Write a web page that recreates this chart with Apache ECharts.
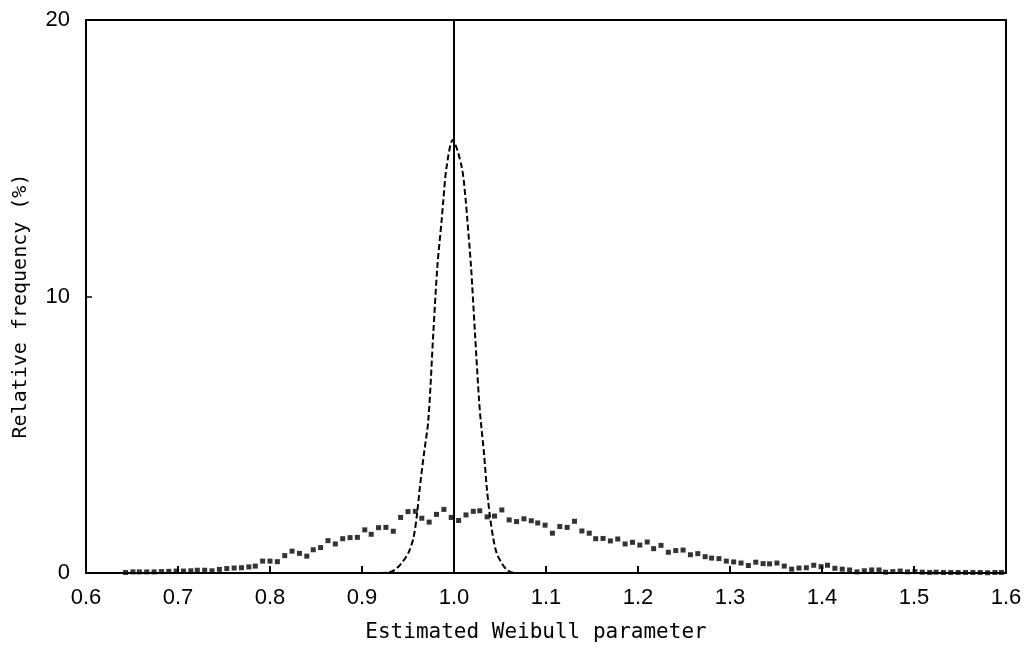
<!DOCTYPE html>
<html>
<head>
<meta charset="utf-8">
<script src="https://cdn.jsdelivr.net/npm/echarts@6/dist/echarts.min.js"></script>
<style>
html,body{margin:0;padding:0;background:#fff;}
#c{width:1029px;height:648px;}
</style>
</head>
<body>
<div id="c"></div>
<script>
// Simulated (dotted) histogram: bin centres and relative frequency (%)
const simX = [0.643,0.651,0.658,0.666,0.674,0.682,0.690,0.698,0.706,0.714,
  0.721,0.729,0.737,0.745,0.753,0.761,0.769,0.777,0.784,0.792,
  0.800,0.808,0.816,0.824,0.832,0.840,0.847,0.855,0.863,0.871,
  0.879,0.887,0.895,0.903,0.910,0.918,0.926,0.934,0.942,0.950,
  0.958,0.965,0.973,0.981,0.989,0.997,1.005,1.013,1.021,1.028,
  1.036,1.044,1.052,1.060,1.068,1.076,1.084,1.091,1.099,1.107,
  1.115,1.123,1.131,1.139,1.147,1.154,1.162,1.170,1.178,1.186,
  1.194,1.202,1.210,1.217,1.225,1.233,1.241,1.249,1.257,1.265,
  1.273,1.280,1.288,1.296,1.304,1.312,1.320,1.328,1.336,1.343,
  1.351,1.359,1.367,1.375,1.383,1.391,1.399,1.406,1.414,1.422,
  1.430,1.438,1.446,1.454,1.462,1.469,1.477,1.485,1.493,1.501,
  1.509,1.517,1.524,1.532,1.540,1.548,1.556,1.564,1.572,1.580,
  1.588,1.595];
const simY = [0.02,0.04,0.04,0.04,0.04,0.05,0.06,0.07,0.07,0.08,
  0.10,0.10,0.08,0.13,0.16,0.18,0.19,0.22,0.25,0.43,
  0.43,0.41,0.63,0.79,0.71,0.61,0.84,0.92,1.17,1.05,
  1.24,1.28,1.29,1.56,1.40,1.64,1.65,1.51,2.01,2.22,
  2.23,1.98,1.84,2.12,2.30,2.01,1.90,2.10,2.23,2.25,
  2.03,2.06,2.28,1.92,1.86,1.96,1.89,1.81,1.73,1.44,
  1.68,1.65,1.87,1.52,1.44,1.24,1.25,1.16,1.23,1.05,
  1.11,1.01,1.12,0.88,1.00,0.75,0.81,0.83,0.66,0.70,
  0.59,0.54,0.52,0.43,0.40,0.36,0.27,0.39,0.34,0.33,
  0.36,0.25,0.14,0.18,0.19,0.28,0.23,0.28,0.17,0.14,
  0.11,0.04,0.08,0.11,0.11,0.03,0.05,0.07,0.04,0.05,
  0.03,0.02,0.03,0.02,0.02,0.02,0.02,0.02,0.02,0.01,
  0.02,0.02];

// Dashed curve
const curveX = [0.920,0.9286,0.9359,0.9431,0.9503,0.9558,0.9595,0.963,0.9674,0.9721,
  0.9775,0.9819,0.9866,0.9884,0.992,0.9986,1.0083,1.0127,1.0145,1.0185,
  1.0228,1.0272,1.029,1.0326,1.0355,1.0391,1.0427,1.0464,1.0518,1.0573,1.0645,1.075];
const curveY = [0,0.01,0.12,0.36,0.72,1.25,2.04,3.13,4.33,5.53,
  8.67,11.08,12.77,13.49,14.7,15.66,14.7,13.49,12.77,11.08,
  8.67,6.26,5.53,4.33,3.13,2.04,1.25,0.72,0.36,0.12,0.01,0];

const trueValue = 1.0;
const xTicks = [0.6,0.7,0.8,0.9,1.0,1.1,1.2,1.3,1.4,1.5,1.6];
const yTicks = [0,10,20];

const chart = echarts.init(document.getElementById('c'));
chart.setOption({
  animation: false,
  backgroundColor: '#ffffff',
  grid: {left: 86, right: 23, top: 20, bottom: 75, show: true, borderColor: '#000', borderWidth: 2, backgroundColor: 'transparent'},
  xAxis: {
    type: 'value', min: 0.6, max: 1.6, interval: 0.1,
    axisLine: {show: true, lineStyle: {color: '#000', width: 2}},
    axisTick: {show: true, inside: true, length: 7, lineStyle: {color: '#000', width: 2}},
    splitLine: {show: false},
    axisLabel: {color: '#000', fontFamily: 'Liberation Sans', fontSize: 22, margin: 14,
      formatter: v => (Math.round(v*10)/10).toFixed(1)}
  },
  yAxis: {
    type: 'value', min: 0, max: 20, interval: 10,
    axisLine: {show: true, lineStyle: {color: '#000', width: 2}},
    axisTick: {show: true, inside: true, length: 6, lineStyle: {color: '#000', width: 1.5}},
    splitLine: {show: false},
    axisLabel: {color: '#000', fontFamily: 'Liberation Sans', fontSize: 22, margin: 16}
  },
  graphic: [
    {type: 'text', x: 536, y: 633, style: {text: 'Estimated Weibull parameter', fontFamily: 'DejaVu Sans Mono', fontSize: 21, fill: '#000', align: 'center', verticalAlign: 'middle'}},
    {type: 'text', x: 21, y: 306, rotation: Math.PI/2, style: {text: 'Relative frequency (%)', fontFamily: 'DejaVu Sans Mono', fontSize: 20, fill: '#000', align: 'center', verticalAlign: 'middle'}}
  ],
  series: [
    {
      type: 'line', data: [[trueValue, 0], [trueValue, 20]], symbol: 'none',
      lineStyle: {color: '#000', width: 2}, z: 3
    },
    {
      type: 'line', data: curveX.map((x, i) => [x, curveY[i]]), symbol: 'none', smooth: 0.3,
      lineStyle: {color: '#000', width: 2, type: [6, 3]}, z: 4
    },
    {
      type: 'scatter', data: simX.map((x, i) => [x, simY[i]]), symbol: 'rect', symbolSize: 5,
      itemStyle: {color: '#000'}, z: 5
    }
  ]
});
</script>
</body>
</html>
